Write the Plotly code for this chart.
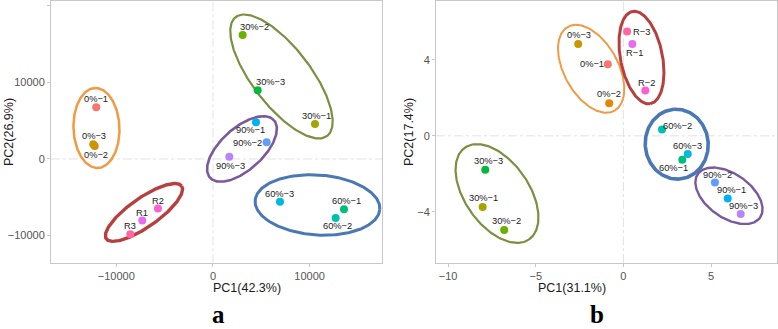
import numpy as np
import plotly.graph_objects as go

# ---------------- data ----------------
samples_a = ["0%-1", "0%-2", "0%-3", "30%-1", "30%-2", "30%-3", "60%-1", "60%-2", "60%-3",
             "90%-1", "90%-2", "90%-3", "R1", "R2", "R3"]
pc1_a = [-12070, -12230, -12380, 10550, 3070, 4620, 13550, 12690, 6930,
         4450, 5550, 1690, -7310, -5690, -8550]
pc2_a = [6760, 1700, 1920, 4580, 16210, 8980, -6580, -7710, -5580,
         4800, 2180, 300, -8060, -6490, -9850]

samples_b = ["0%-1", "0%-2", "0%-3", "30%-1", "30%-2", "30%-3", "60%-1", "60%-2", "60%-3",
             "90%-1", "90%-2", "90%-3", "R-1", "R-2", "R-3"]
pc1_b = [-0.89, -0.81, -2.58, -8.03, -6.80, -7.88, 3.36, 2.20, 3.67,
         5.95, 5.22, 6.69, 0.51, 1.25, 0.21]
pc2_b = [3.77, 1.72, 4.84, -3.75, -4.96, -1.79, -1.26, 0.33, -0.96,
         -3.30, -2.46, -4.12, 4.84, 2.38, 5.49]

xticks_a = [-10000, 0, 10000]
xlabels_a = ["−10000", "0", "10000"]
yticks_a = [-10000, 0, 10000, 20000]
ylabels_a = ["−10000", "0", "10000", "20000"]
xticks_b = [-10, -5, 0, 5]
xlabels_b = ["−10", "−5", "0", "5"]
yticks_b = [-4, 0, 4]
ylabels_b = ["−4", "0", "4"]

# ---------------- styles ----------------
palette = ["#F8766D", "#E58700", "#C99800", "#A3A500", "#6BB100", "#00BA38", "#00BF7D", "#00C0AF",
           "#00BCD8", "#00B0F6", "#619CFF", "#B983FF", "#E76BF3", "#FD61D1", "#FF67A4"]

# label offsets (px) relative to points
off_a = [(0, 8), (1, -9), (1, 8), (2, 8), (12, 8), (13, 8), (2, 8), (2, -8), (0, 8),
         (-6, -8), (-19, -1), (1, -9), (0, 8), (0, 8), (0, 8)]
off_b = [(-16, 0), (0, 9), (1, 9), (1, 9), (2, 9), (3, 9), (-9, -8), (16, 4), (0, 8),
         (4, 8), (3, 8), (3, 8), (2, -9), (1, 8), (14, 0)]

W, H = 778, 329
ML, MR, MT, MB = 51, 1, 1, 66
PW = W - ML - MR
PH = H - MT - MB
dom_a = [0, 331 / PW]
dom_b = [385 / PW, 1]

xr_a = [-16750, 17480]
yr_a = [-13600, 20650]
xr_b = [-10.69, 8.76]
yr_b = [-6.70, 7.10]

ux_a = (xr_a[1] - xr_a[0]) / (PW * (dom_a[1] - dom_a[0]))
uy_a = (yr_a[1] - yr_a[0]) / PH
ux_b = (xr_b[1] - xr_b[0]) / (PW * (dom_b[1] - dom_b[0]))
uy_b = (yr_b[1] - yr_b[0]) / PH

# ellipses: center (data), semi axes (px), angle (deg), colour, width
ell_a = [
    (-12048, 4052, 40, 23, 92, "#F29A43", 2.5),
    (7084, 10784, 75, 29, -52.4, "#7A9040", 2.2),
    (2999, 1307, 43, 21, 42, "#7A5A9C", 2.6),
    (10807, -6013, 62.5, 30, -4, "#4A78B4", 3.0),
    (-7135, -6993, 46, 14.5, 35, "#B5403F", 3.4),
]
ell_b = [
    (-1.84, 3.53, 48, 27, -61, "#F29A43", 2.0),
    (1.03, 4.12, 47, 21, -79, "#B5403F", 3.0),
    (3.04, -0.44, 35, 31.5, 95, "#4A78B4", 3.6),
    (6.02, -3.16, 38, 22, -35, "#7A5A9C", 2.4),
    (-7.21, -3.04, 56, 32, -55, "#7A9040", 2.2),
]


def ellipse(cx, cy, a, b, ang, ux, uy):
    t = np.linspace(0, 2 * np.pi, 240)
    th = np.radians(ang)
    dx = a * np.cos(t) * np.cos(th) - b * np.sin(t) * np.sin(th)
    dy = a * np.cos(t) * np.sin(th) + b * np.sin(t) * np.cos(th)
    return cx + dx * ux, cy + dy * uy


fig = go.Figure()

FONT = "Liberation Sans, Arial, sans-serif"

for (cx, cy, a, b, ang, col, lw) in ell_a:
    ex, ey = ellipse(cx, cy, a, b, ang, ux_a, uy_a)
    fig.add_trace(go.Scatter(x=ex, y=ey, mode="lines", line=dict(color=col, width=lw),
                             hoverinfo="skip", showlegend=False, xaxis="x", yaxis="y"))
for (cx, cy, a, b, ang, col, lw) in ell_b:
    ex, ey = ellipse(cx, cy, a, b, ang, ux_b, uy_b)
    fig.add_trace(go.Scatter(x=ex, y=ey, mode="lines", line=dict(color=col, width=lw),
                             hoverinfo="skip", showlegend=False, xaxis="x2", yaxis="y2"))

fig.add_trace(go.Scatter(x=pc1_a, y=pc2_a, mode="markers", text=samples_a,
                         marker=dict(color=palette, size=8), showlegend=False,
                         xaxis="x", yaxis="y"))
fig.add_trace(go.Scatter(x=pc1_b, y=pc2_b, mode="markers", text=samples_b,
                         marker=dict(color=palette, size=8), showlegend=False,
                         xaxis="x2", yaxis="y2"))

LABEL_FONT = dict(family=FONT, size=9.3, color="#222222")
annotations = []
for s, x, y, (dx, dy) in zip(samples_a, pc1_a, pc2_a, off_a):
    annotations.append(dict(x=x, y=y, xref="x", yref="y", text=s.replace("-", "−"), showarrow=False,
                            xshift=dx, yshift=dy, font=LABEL_FONT))
for s, x, y, (dx, dy) in zip(samples_b, pc1_b, pc2_b, off_b):
    annotations.append(dict(x=x, y=y, xref="x2", yref="y2", text=s.replace("-", "−"), showarrow=False,
                            xshift=dx, yshift=dy, font=LABEL_FONT))


def px_x(p):
    return (p - ML) / PW


TITLE_FONT = dict(family=FONT, size=12.5, color="#1a1a1a")
LETTER_FONT = dict(family="Liberation Serif, Times New Roman, serif", size=25, color="#000000")
annotations += [
    dict(x=px_x(211), y=0, xref="paper", yref="paper", yanchor="middle", yshift=-25,
         text="PC1(42.3%)", showarrow=False, font=TITLE_FONT),
    dict(x=px_x(608), y=0, xref="paper", yref="paper", yanchor="middle", yshift=-25,
         text="PC1(31.1%)", showarrow=False, font=TITLE_FONT),
    dict(x=px_x(9), y=0.5, xref="paper", yref="paper", xanchor="center", yanchor="middle",
         text="PC2(26.9%)", textangle=-90, showarrow=False, font=TITLE_FONT),
    dict(x=px_x(409), y=0.5, xref="paper", yref="paper", xanchor="center", yanchor="middle",
         text="PC2(17.4%)", textangle=-90, showarrow=False, font=TITLE_FONT),
    dict(x=px_x(211), y=0, xref="paper", yref="paper", yanchor="bottom", yshift=-MB,
         text="<b>a</b>", showarrow=False, font=LETTER_FONT, borderpad=0),
    dict(x=px_x(605), y=0, xref="paper", yref="paper", yanchor="bottom", yshift=-MB,
         text="<b>b</b>", showarrow=False, font=LETTER_FONT, borderpad=0),
]

zero_line = dict(color="#DADADA", width=0.8, dash="dashdot")
shapes = [
    dict(type="line", xref="x", yref="y domain", x0=0, x1=0, y0=0, y1=1, line=zero_line, layer="below"),
    dict(type="line", xref="x domain", yref="y", x0=0, x1=1, y0=0, y1=0, line=zero_line, layer="below"),
    dict(type="line", xref="x2", yref="y2 domain", x0=0, x1=0, y0=0, y1=1, line=zero_line, layer="below"),
    dict(type="line", xref="x2 domain", yref="y2", x0=0, x1=1, y0=0, y1=0, line=zero_line, layer="below"),
]

axis_common = dict(showgrid=False, zeroline=False, showline=True, mirror=True, automargin=False,
                   linecolor="#C8C8C8", linewidth=1, ticks="outside", ticklen=3,
                   tickcolor="#C8C8C8", tickwidth=1,
                   tickfont=dict(family=FONT, size=11, color="#555555"))

fig.update_layout(
    width=W, height=H,
    margin=dict(l=ML, r=MR, t=MT, b=MB),
    paper_bgcolor="white", plot_bgcolor="white",
    xaxis=dict(domain=dom_a, range=xr_a, tickvals=xticks_a, ticktext=xlabels_a, anchor="y", **axis_common),
    yaxis=dict(range=yr_a, tickvals=yticks_a, ticktext=ylabels_a, anchor="x", **axis_common),
    xaxis2=dict(domain=dom_b, range=xr_b, tickvals=xticks_b, ticktext=xlabels_b, anchor="y2", **axis_common),
    yaxis2=dict(range=yr_b, tickvals=yticks_b, ticktext=ylabels_b, anchor="x2", **axis_common),
    annotations=annotations,
    shapes=shapes,
    showlegend=False,
)

fig.write_html("out.html", config={"displayModeBar": False},
               post_script="document.body.style.margin='0';document.body.style.overflow='hidden';")
